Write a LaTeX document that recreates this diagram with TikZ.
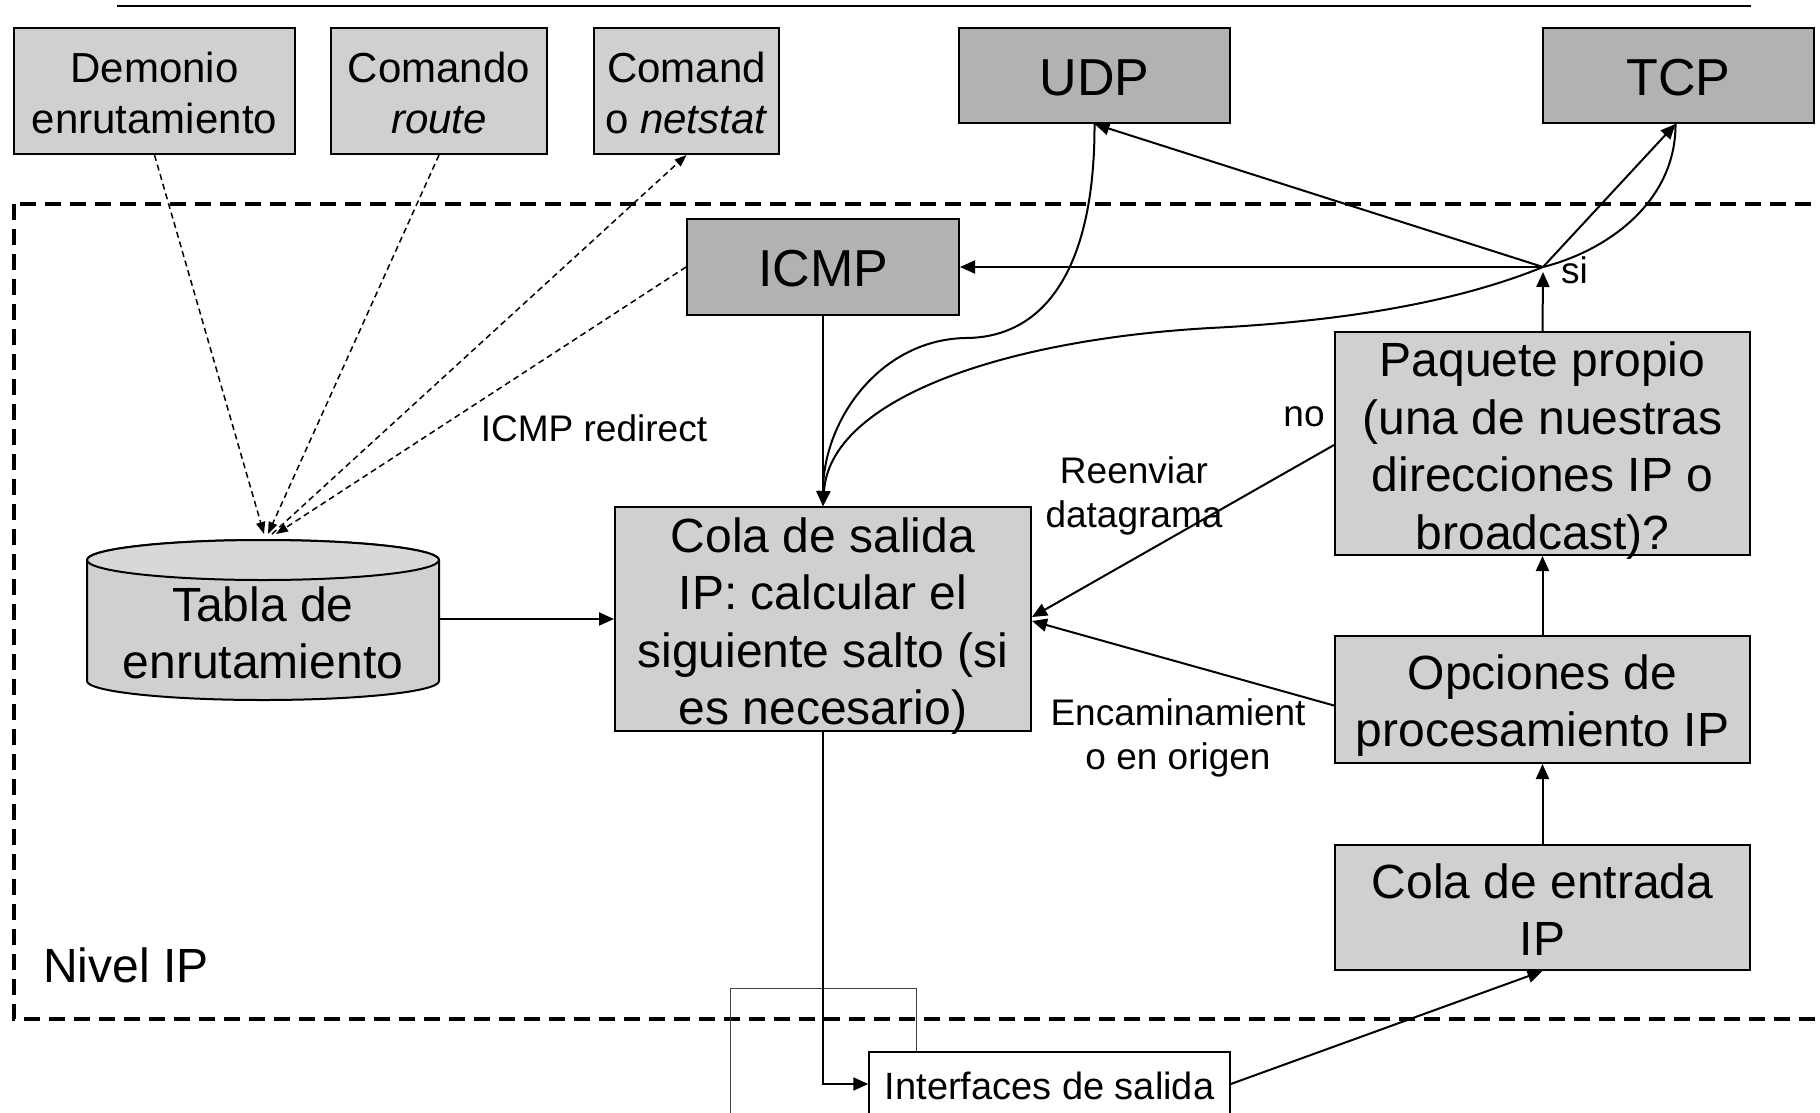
\documentclass[tikz,border=0pt]{standalone}
\usepackage{fontspec}
\setmainfont{Liberation Sans}
\usetikzlibrary{arrows.meta}
\definecolor{lg}{RGB}{208,208,208}
\definecolor{lgt}{RGB}{216,216,216}
\definecolor{dg}{RGB}{178,178,178}
\begin{document}
\begin{tikzpicture}[x=1pt,y=-1pt,
  box/.style={draw, line width=2pt, fill=lg, inner sep=0pt},
  dbox/.style={box, fill=dg},
  btxt/.style={align=center, inner sep=0pt, font=\fontsize{48}{57.6}\selectfont},
  stxt/.style={btxt, font=\fontsize{42}{50.4}\selectfont},
  dtxt/.style={btxt, font=\fontsize{52}{62}\selectfont},
  lbl/.style={font=\fontsize{37}{44}\selectfont, inner sep=0pt, align=center},
  arr/.style={line width=2pt, -{Triangle[length=15pt,width=13pt]}},
  darr/.style={line width=1.5pt, dash pattern=on 6pt off 4pt, -{Triangle[length=12pt,width=9pt]}}]
\useasboundingbox (0,0) rectangle (1820,1112);
% top rule
\draw[line width=2.5pt] (117,6) -- (1751,6);
% IP level frame
\draw[line width=3.5pt, dash pattern=on 16pt off 9pt] (14,204) rectangle (1835,1019);
\node[font=\fontsize{48}{57.6}\selectfont, anchor=west, inner sep=0pt] (nivel) at (43,965) {Nivel IP};
% top boxes
\node[box, minimum width=281pt, minimum height=126pt] (dem) at (154.5,91) {};
\node[stxt] (demt) at ([yshift=-2pt]dem.center) {Demonio\\enrutamiento};
\node[box, minimum width=216pt, minimum height=126pt] (route) at (439,91) {};
\node[stxt] (routet) at ([yshift=-2pt]route.center) {Comando\\\textit{route}};
\node[box, minimum width=185pt, minimum height=126pt] (net) at (686.5,91) {};
\node[stxt] (nett) at ([yshift=-2pt]net.center) {Comand\\o \textit{netstat}};
\node[dbox, minimum width=271pt, minimum height=95pt] (udp) at (1094.5,75.5) {};
\node[dtxt] (udpt) at ([yshift=-2pt]udp.center) {UDP};
\node[dbox, minimum width=271pt, minimum height=95pt] (tcp) at (1678.5,75.5) {};
\node[dtxt] (tcpt) at ([yshift=-2pt]tcp.center) {TCP};
\node[dbox, minimum width=272pt, minimum height=96pt] (icmp) at (823,267) {};
\node[dtxt] (icmpt) at ([yshift=-2pt]icmp.center) {ICMP};
% main boxes
\node[box, minimum width=416pt, minimum height=224pt] (cola) at (823,619) {};
\node[btxt] (colat) at ([yshift=-7pt]cola.center) {Cola de salida\\IP: calcular el\\siguiente salto (si\\es necesario)};
\node[box, minimum width=415pt, minimum height=223pt] (paq) at (1542.5,443.5) {};
\node[btxt] (paqt) at ([yshift=-7pt]paq.center) {Paquete propio\\(una de nuestras\\direcciones IP o\\broadcast)?};
\node[box, minimum width=415pt, minimum height=127pt] (opc) at (1542.5,699.5) {};
\node[btxt] (opct) at ([yshift=-6pt]opc.center) {Opciones de\\procesamiento IP};
\node[box, minimum width=415pt, minimum height=125pt] (ent) at (1542.5,907.5) {};
\node[btxt] (entt) at ([yshift=-2pt]ent.center) {Cola de entrada\\IP};
% routing table cylinder
\filldraw[fill=lg, line width=2pt] (87,560) -- (87,681) arc[start angle=180, end angle=360, x radius=176pt, y radius=19pt] -- (439,560) arc[start angle=0, end angle=180, x radius=176pt, y radius=20pt] -- cycle;
\filldraw[fill=lgt, line width=2pt] (263,560) ellipse[x radius=176pt, y radius=20pt];
\node[font=\fontsize{48}{57.6}\selectfont, align=center, inner sep=0pt, minimum width=352pt] (tabla) at (263,633) {Tabla de\\enrutamiento};
\coordinate (tt) at (268,534);
% interfaces
\draw[line width=1pt, black!75] (730,1125) -- (730,988) -- (916,988) -- (916,1060);
\node[draw, line width=1.5pt, fill=white, minimum width=361pt, minimum height=64pt, inner sep=0pt] (ifs) at (1049.5,1084) {};
\node[font=\fontsize{38}{45}\selectfont, inner sep=0pt] (ifst) at ([yshift=-2pt]ifs.center) {Interfaces de salida};
% labels
\node[lbl] (redir) at (594,428) {ICMP redirect};
\node[lbl] (no) at (1304,417) {no};
\node[lbl] (reenv) at (1134,496) {Reenviar\\datagrama};
\node[lbl] (encam) at (1178,738) {Encaminamient\\o en origen};
\node[lbl, anchor=west] (si) at (1561,270) {si};
\coordinate (j) at (1543,267);
% dashed connectors
\draw[darr] (dem.south) -- ([xshift=-4pt]tt);
\draw[darr] (route.south) -- (tt);
\draw[darr] ([xshift=4pt]tt) -- (net.south);
\draw[darr] (icmp.west) -- ([xshift=8pt]tt);
% solid connectors
\draw[arr] (tabla.east |- cola.west) -- (cola.west);
\draw[arr] (icmp.south) -- (cola.north);
\draw[arr] (paq.north) -- ([yshift=-5pt]j);
\draw[arr] (j) -- (icmp.east);
\draw[arr] (j) -- (udp.south);
\draw[arr] (j) -- ([xshift=-3pt]tcp.south);
\draw[arr] (udp.south) .. controls (1095,260) and (1050,338) .. (965,338) .. controls (880,340) and (823,420) .. (cola.north);
\draw[arr] ([xshift=-3pt]tcp.south) .. controls (1676,200) and (1610,250) .. (j) .. controls (1450,305) and (1330,322) .. (1210,328) .. controls (1000,340) and (830,400) .. (cola.north);
\coordinate (pw) at (paq.west |- 0,445);
\draw[arr] (pw) -- ([yshift=2pt]cola.east);
\draw[arr] ([yshift=-6pt]opc.west) -- ([yshift=-2pt]cola.east);
\draw[arr] (opc.north) -- (paq.south);
\draw[arr] (ent.north) -- (opc.south);
\draw[arr] (cola.south) |- (ifs.west);
\draw[arr] (ifs.east) -- (ent.south);
\end{tikzpicture}
\end{document}
